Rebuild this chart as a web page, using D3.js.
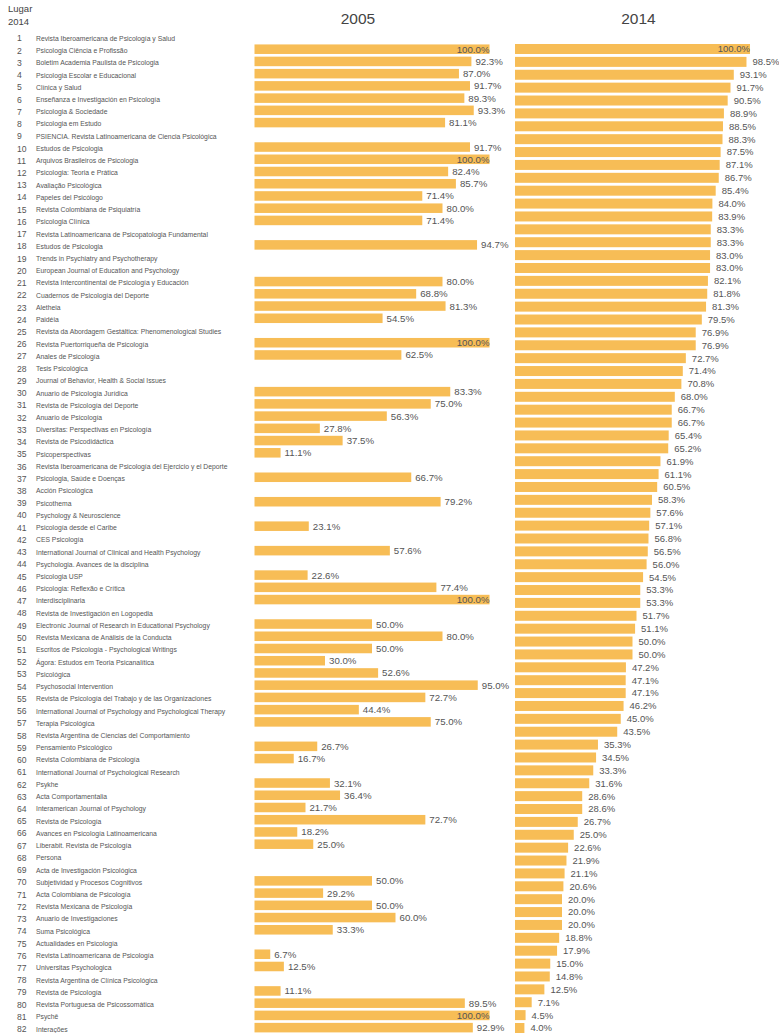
<!DOCTYPE html>
<html>
<head>
<meta charset="utf-8">
<script src="https://cdn.jsdelivr.net/npm/d3@7"></script>
<style>
  body { margin: 0; background: #fff; }
  text { font-family: "Liberation Sans", Arial, Helvetica, sans-serif; }
</style>
</head>
<body>
<div id="chart"></div>
<script>
const journals = [
  "Revista Iberoamericana de Psicología y Salud",
  "Psicologia Ciência e Profissão",
  "Boletim Academia Paulista de Psicologia",
  "Psicologia Escolar e Educacional",
  "Clínica y Salud",
  "Enseñanza e Investigación en Psicología",
  "Psicologia & Sociedade",
  "Psicologia em Estudo",
  "PSIENCIA. Revista Latinoamericana de Ciencia Psicológica",
  "Estudos de Psicologia",
  "Arquivos Brasileiros de Psicologia",
  "Psicologia: Teoria e Prática",
  "Avaliação Psicológica",
  "Papeles del Psicólogo",
  "Revista Colombiana de Psiquiatría",
  "Psicologia Clínica",
  "Revista Latinoamericana de Psicopatologia Fundamental",
  "Estudos de Psicologia",
  "Trends in Psychiatry and Psychotherapy",
  "European Journal of Education and Psychology",
  "Revista Intercontinental de Psicología y Educación",
  "Cuadernos de Psicología del Deporte",
  "Aletheia",
  "Paidéia",
  "Revista da Abordagem Gestáltica: Phenomenological Studies",
  "Revista Puertorriqueña de Psicología",
  "Anales de Psicología",
  "Tesis Psicológica",
  "Journal of Behavior, Health & Social Issues",
  "Anuario de Psicología Jurídica",
  "Revista de Psicología del Deporte",
  "Anuario de Psicología",
  "Diversitas: Perspectivas en Psicología",
  "Revista de Psicodidáctica",
  "Psicoperspectivas",
  "Revista Iberoamericana de Psicología del Ejercicio y el Deporte",
  "Psicologia, Saúde e Doenças",
  "Acción Psicológica",
  "Psicothema",
  "Psychology & Neuroscience",
  "Psicología desde el Caribe",
  "CES Psicología",
  "International Journal of Clinical and Health Psychology",
  "Psychologia. Avances de la disciplina",
  "Psicologia USP",
  "Psicologia: Reflexão e Crítica",
  "Interdisciplinaria",
  "Revista de Investigación en Logopedia",
  "Electronic Journal of Research in Educational Psychology",
  "Revista Mexicana de Análisis de la Conducta",
  "Escritos de Psicología - Psychological Writings",
  "Ágora: Estudos em Teoria Psicanalítica",
  "Psicológica",
  "Psychosocial Intervention",
  "Revista de Psicología del Trabajo y de las Organizaciones",
  "International Journal of Psychology and Psychological Therapy",
  "Terapia Psicológica",
  "Revista Argentina de Ciencias del Comportamiento",
  "Pensamiento Psicológico",
  "Revista Colombiana de Psicología",
  "International Journal of Psychological Research",
  "Psykhe",
  "Acta Comportamentalia",
  "Interamerican Journal of Psychology",
  "Revista de Psicología",
  "Avances en Psicología Latinoamericana",
  "Liberabit. Revista de Psicología",
  "Persona",
  "Acta de Investigación Psicológica",
  "Subjetividad y Procesos Cognitivos",
  "Acta Colombiana de Psicología",
  "Revista Mexicana de Psicología",
  "Anuario de Investigaciones",
  "Suma Psicológica",
  "Actualidades en Psicología",
  "Revista Latinoamericana de Psicología",
  "Universitas Psychologica",
  "Revista Argentina de Clínica Psicológica",
  "Revista de Psicología",
  "Revista Portuguesa de Psicossomática",
  "Psychê",
  "Interações"
];

const ranks2014 = journals.map((d, i) => i + 1);

// 2005 share, one per journal row (null = no 2005 data)
const values2005 = [
  null, 100.0, 92.3, 87.0, 91.7, 89.3, 93.3, 81.1, null, 91.7,
  100.0, 82.4, 85.7, 71.4, 80.0, 71.4, null, 94.7, null, null,
  80.0, 68.8, 81.3, 54.5, null, 100.0, 62.5, null, null, 83.3,
  75.0, 56.3, 27.8, 37.5, 11.1, null, 66.7, null, 79.2, null,
  23.1, null, 57.6, null, 22.6, 77.4, 100.0, null, 50.0, 80.0,
  50.0, 30.0, 52.6, 95.0, 72.7, 44.4, 75.0, null, 26.7, 16.7,
  null, 32.1, 36.4, 21.7, 72.7, 18.2, 25.0, null, null, 50.0,
  29.2, 50.0, 60.0, 33.3, null, 6.7, 12.5, null, 11.1, 89.5,
  100.0, 92.9
];

// 2014 share, its own column of bars
const values2014 = [
  100.0, 98.5, 93.1, 91.7, 90.5, 88.9, 88.5, 88.3, 87.5, 87.1,
  86.7, 85.4, 84.0, 83.9, 83.3, 83.3, 83.0, 83.0, 82.1, 81.8,
  81.3, 79.5, 76.9, 76.9, 72.7, 71.4, 70.8, 68.0, 66.7, 66.7,
  65.4, 65.2, 61.9, 61.1, 60.5, 58.3, 57.6, 57.1, 56.8, 56.5,
  56.0, 54.5, 53.3, 53.3, 51.7, 51.1, 50.0, 50.0, 47.2, 47.1,
  47.1, 46.2, 45.0, 43.5, 35.3, 34.5, 33.3, 31.6, 28.6, 28.6,
  26.7, 25.0, 22.6, 21.9, 21.1, 20.6, 20.0, 20.0, 20.0, 18.8,
  17.9, 15.0, 14.8, 12.5, 7.1, 4.5, 4.0
];

const years = ["2005", "2014"];

const width = 779;
const height = 1033;
const barColor = "#f7bd56";
const textColor = "#555";

const svg = d3.select("#chart")
  .append("svg")
  .attr("width", width)
  .attr("height", height);

// row scale for the journal list and the 2005 bars
const yRow = d3.scaleBand()
  .domain(ranks2014)
  .range([32.2, 1032.4])
  .paddingInner(0.22)
  .paddingOuter(0);

// 2014 bars use their own spacing
const y14 = d3.scaleBand()
  .domain(d3.range(values2014.length))
  .range([44, 1033])
  .paddingInner(0.224)
  .paddingOuter(0);

const x05 = d3.scaleLinear().domain([0, 100]).range([254.5, 489.5]);
const x14 = d3.scaleLinear().domain([0, 100]).range([515, 750]);

// header
svg.append("text")
  .attr("x", 8).attr("y", 12)
  .style("font-size", "9.5px").attr("fill", "#444")
  .text("Lugar");
svg.append("text")
  .attr("x", 8).attr("y", 25)
  .style("font-size", "9.5px").attr("fill", "#444")
  .text(years[1]);

svg.selectAll(".year")
  .data(years)
  .join("text")
  .attr("class", "year")
  .attr("x", (d, i) => i === 0 ? 358 : 638.5)
  .attr("y", 23.5)
  .attr("text-anchor", "middle")
  .style("font-size", "15.5px")
  .attr("fill", "#444")
  .text(d => d);

// rank numbers and journal names
const rows = svg.append("g")
  .selectAll("g")
  .data(journals)
  .join("g")
  .attr("transform", (d, i) => `translate(0,${yRow(ranks2014[i]) + yRow.bandwidth() / 2 + 1.5})`);

rows.append("text")
  .attr("x", 17)
  .attr("dy", "0.35em")
  .style("font-size", "8.6px")
  .attr("fill", textColor)
  .text((d, i) => ranks2014[i]);

rows.append("text")
  .attr("x", 36)
  .attr("dy", "0.35em")
  .style("font-size", "6.8px")
  .attr("fill", textColor)
  .text(d => d);

// 2005 bars
const data05 = values2005
  .map((v, i) => ({ rank: ranks2014[i], value: v }))
  .filter(d => d.value !== null);

const g05 = svg.append("g");
g05.selectAll("rect")
  .data(data05)
  .join("rect")
  .attr("x", x05(0))
  .attr("y", d => yRow(d.rank))
  .attr("width", d => x05(d.value) - x05(0))
  .attr("height", yRow.bandwidth())
  .attr("fill", barColor);

g05.selectAll("text")
  .data(data05)
  .join("text")
  .attr("x", d => d.value >= 100 ? x05(d.value) : x05(d.value) + 4)
  .attr("y", d => yRow(d.rank) + yRow.bandwidth() / 2)
  .attr("dy", "0.36em")
  .attr("text-anchor", d => d.value >= 100 ? "end" : "start")
  .style("font-size", "9.7px")
  .attr("fill", textColor)
  .text(d => d.value.toFixed(1) + "%");

// 2014 bars
const g14 = svg.append("g");
g14.selectAll("rect")
  .data(values2014)
  .join("rect")
  .attr("x", x14(0))
  .attr("y", (d, i) => y14(i))
  .attr("width", d => x14(d) - x14(0))
  .attr("height", y14.bandwidth())
  .attr("fill", barColor);

g14.selectAll("text")
  .data(values2014)
  .join("text")
  .attr("x", d => d >= 100 ? x14(d) : x14(d) + 6)
  .attr("y", (d, i) => y14(i) + y14.bandwidth() / 2)
  .attr("dy", "0.36em")
  .attr("text-anchor", d => d >= 100 ? "end" : "start")
  .style("font-size", "9.5px")
  .attr("fill", textColor)
  .text(d => d.toFixed(1) + "%");
</script>
</body>
</html>
